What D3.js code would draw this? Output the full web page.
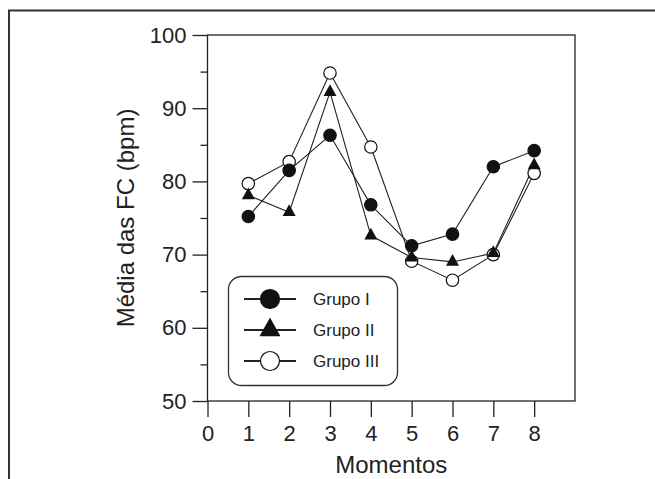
<!DOCTYPE html>
<html><head><meta charset="utf-8">
<script src="https://cdn.jsdelivr.net/npm/d3@7"></script>
<style>html,body{margin:0;padding:0;background:#fff;}svg{display:block;}</style>
</head><body>
<svg id="chart" width="655" height="479"></svg>
<script>
const moments = [1, 2, 3, 4, 5, 6, 7, 8];
const grupoI   = [75.2, 81.5, 86.3, 76.8, 71.2, 72.8, 82.0, 84.2];
const grupoII  = [78.1, 75.8, 92.2, 72.6, 69.6, 69.0, 70.2, 82.2];
const grupoIII = [79.7, 82.7, 94.8, 84.7, 69.1, 66.5, 70.0, 81.1];
const seriesNames = ["Grupo I", "Grupo II", "Grupo III"];
const xTicks = [0, 1, 2, 3, 4, 5, 6, 7, 8];
const yMajor = [50, 60, 70, 80, 90, 100];
const yMinor = [55, 65, 75, 85, 95];

const svg = d3.select("#chart");
const font = "'Liberation Sans', Arial, sans-serif";
const ink = "#222";

// outer frame
svg.append("path").attr("d", "M9,479V10.5H655").attr("fill", "none")
  .attr("stroke", "#333").attr("stroke-width", 2);

const x = d3.scaleLinear().domain([0, 9]).range([207.5, 575]);
const y = d3.scaleLinear().domain([50, 100]).range([401, 35]);

// plot box
svg.append("rect").attr("x", x(0)).attr("y", y(100))
  .attr("width", x(9) - x(0)).attr("height", y(50) - y(100))
  .attr("fill", "none").attr("stroke", ink).attr("stroke-width", 1.3);

// y axis
const yAxis = svg.append("g").attr("transform", `translate(${x(0)},0)`)
  .call(d3.axisLeft(y).tickValues(yMajor).tickSize(15).tickPadding(6).tickFormat(d3.format("d")));
yAxis.select(".domain").remove();
yAxis.selectAll("line").attr("stroke", ink).attr("stroke-width", 1.3);
yAxis.selectAll("text").attr("font-family", font).attr("font-size", 22).attr("fill", ink);
const yAxisMinor = svg.append("g").attr("transform", `translate(${x(0)},0)`)
  .call(d3.axisLeft(y).tickValues(yMinor).tickSize(7).tickFormat(""));
yAxisMinor.select(".domain").remove();
yAxisMinor.selectAll("line").attr("stroke", ink).attr("stroke-width", 1.3);

// x axis
const xAxis = svg.append("g").attr("transform", `translate(0,${y(50)})`)
  .call(d3.axisBottom(x).tickValues(xTicks).tickSize(16).tickPadding(8).tickFormat(d3.format("d")));
xAxis.select(".domain").remove();
xAxis.selectAll("line").attr("stroke", ink).attr("stroke-width", 1.3);
xAxis.selectAll("text").attr("font-family", font).attr("font-size", 22).attr("fill", ink);

// titles
svg.append("text").attr("x", (x(0) + x(9)) / 2).attr("y", 473)
  .attr("text-anchor", "middle").attr("font-family", font).attr("font-size", 24)
  .attr("fill", ink).text("Momentos");
svg.append("text").attr("transform", `translate(134,${(y(50) + y(100)) / 2}) rotate(-90)`)
  .attr("text-anchor", "middle").attr("font-family", font).attr("font-size", 24)
  .attr("fill", ink).text("Média das FC (bpm)");

function triPath(w) {
  const h = w * 0.9;
  return `M0,${-h * 2 / 3}L${w / 2},${h / 3}L${-w / 2},${h / 3}Z`;
}
const series = [
  { name: seriesNames[2], values: grupoIII, kind: "open" },
  { name: seriesNames[1], values: grupoII, kind: "tri" },
  { name: seriesNames[0], values: grupoI, kind: "dot" }
];
const line = d3.line().x(d => x(d[0])).y(d => y(d[1]));

function drawMarker(g, kind, big) {
  if (kind === "tri") {
    g.append("path").attr("d", triPath(big ? 21 : 13)).attr("fill", "#111");
  } else {
    g.append("circle").attr("r", big ? 9.5 : 6.2)
      .attr("fill", kind === "dot" ? "#111" : "#fff")
      .attr("stroke", "#111").attr("stroke-width", 1.2);
  }
}

series.forEach(s => {
  const pts = moments.map((m, i) => [m, s.values[i]]);
  svg.append("path").datum(pts).attr("d", line).attr("fill", "none")
    .attr("stroke", ink).attr("stroke-width", 1.1);
});
series.forEach(s => {
  moments.forEach((m, i) => {
    const g = svg.append("g").attr("transform", `translate(${x(m)},${y(s.values[i])})`);
    drawMarker(g, s.kind, false);
  });
});

// legend
const lg = svg.append("g");
lg.append("rect").attr("x", 228.5).attr("y", 276.5).attr("width", 169).attr("height", 109)
  .attr("rx", 13).attr("fill", "#fff").attr("stroke", "#333").attr("stroke-width", 1.3);
const legendItems = [
  { name: seriesNames[0], kind: "dot" },
  { name: seriesNames[1], kind: "tri" },
  { name: seriesNames[2], kind: "open" }
];
legendItems.forEach((it, i) => {
  const cy = 299 + i * 31;
  lg.append("line").attr("x1", 244).attr("x2", 296).attr("y1", cy).attr("y2", cy)
    .attr("stroke", ink).attr("stroke-width", 2);
  const g = lg.append("g").attr("transform", `translate(270,${cy})`);
  drawMarker(g, it.kind, true);
  lg.append("text").attr("x", 313).attr("y", cy).attr("dy", "0.36em")
    .attr("font-family", font).attr("font-size", 17).attr("fill", ink).text(it.name);
});
</script>
</body></html>
